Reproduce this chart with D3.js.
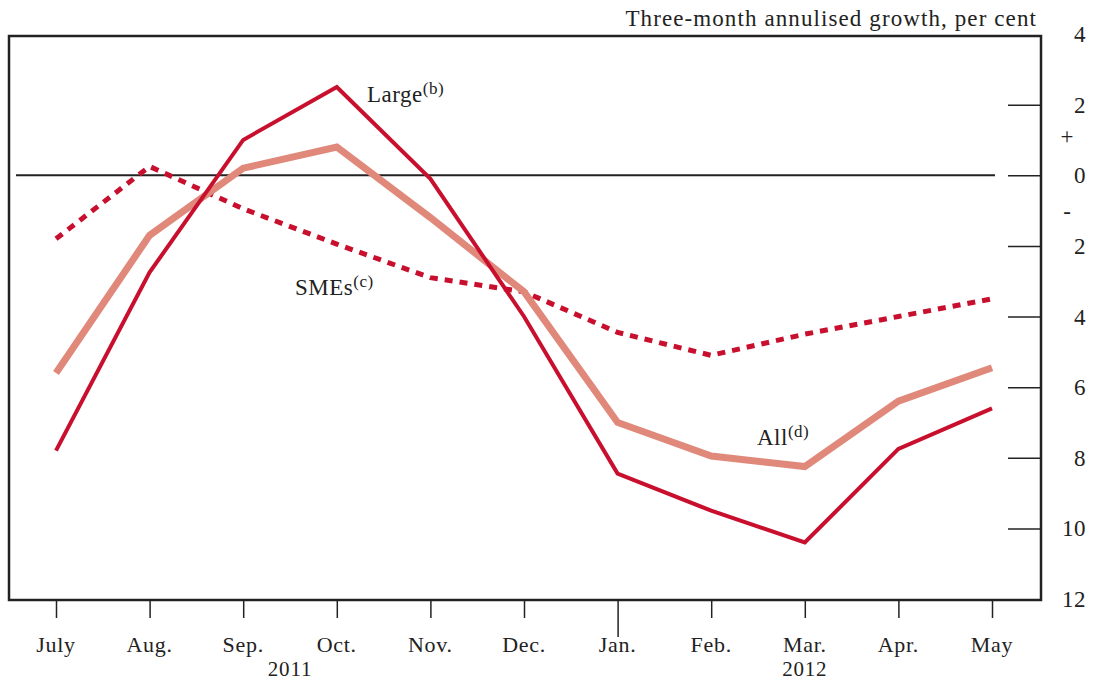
<!DOCTYPE html>
<html>
<head>
<meta charset="utf-8">
<script src="https://cdn.jsdelivr.net/npm/d3@7"></script>
<style>
  body { margin: 0; background: #fff; }
  text { font-family: "Liberation Serif", "DejaVu Serif", serif; fill: #222; }
</style>
</head>
<body>
<div id="chart"></div>
<script>
const months = ["July", "Aug.", "Sep.", "Oct.", "Nov.", "Dec.", "Jan.", "Feb.", "Mar.", "Apr.", "May"];
const years = [{ label: "2011", at: 2.5 }, { label: "2012", at: 8 }];
const large = [-7.8, -2.75, 1.0, 2.5, -0.1, -4.0, -8.45, -9.5, -10.4, -7.75, -6.6];
const allFirms = [-5.6, -1.7, 0.2, 0.8, -1.2, -3.3, -7.0, -7.95, -8.25, -6.4, -5.45];
const smes = [-1.8, 0.25, -0.95, -1.95, -2.9, -3.3, -4.45, -5.1, -4.5, -4.0, -3.5];
const yTicks = [4, 2, 0, -2, -4, -6, -8, -10, -12];

const W = 1093, H = 681;
const frame = { left: 9, right: 1041, top: 36, bottom: 600 };

const svg = d3.select("#chart").append("svg")
    .attr("width", W)
    .attr("height", H);

// scales
const x = d3.scalePoint()
    .domain(months)
    .range([56, 992]);

const y = d3.scaleLinear()
    .domain([-12, 4])
    .range([frame.bottom - 1, frame.top - 2]);

// frame
svg.append("rect")
    .attr("x", frame.left)
    .attr("y", frame.top)
    .attr("width", frame.right - frame.left)
    .attr("height", frame.bottom - frame.top)
    .attr("fill", "none")
    .attr("stroke", "#222")
    .attr("stroke-width", 2.5);

// right axis, ticks inside
const yAxis = d3.axisLeft(y)
    .tickValues(yTicks.filter(d => d > -12 && d < 4))
    .tickSize(33)
    .tickFormat("");
const gy = svg.append("g")
    .attr("transform", "translate(" + frame.right + ",0)")
    .call(yAxis);
gy.select(".domain").remove();
gy.selectAll("line").attr("stroke", "#222").attr("stroke-width", 1.5);

svg.append("g")
    .selectAll("text")
    .data(yTicks)
    .enter().append("text")
    .attr("x", 1086)
    .attr("y", d => y(d))
    .attr("dy", "0.35em")
    .attr("text-anchor", "end")
    .attr("font-size", 23)
    .attr("letter-spacing", 0.5)
    .text(d => Math.abs(d));

svg.append("text").attr("x", 1067).attr("y", y(1.1)).attr("dy", "0.35em")
    .attr("text-anchor", "middle").attr("font-size", 23).text("+");
svg.append("text").attr("x", 1067).attr("y", y(-1)).attr("dy", "0.35em")
    .attr("text-anchor", "middle").attr("font-size", 23).text("-");

// zero line
svg.append("line")
    .attr("x1", 16).attr("x2", 995)
    .attr("y1", y(0)).attr("y2", y(0))
    .attr("stroke", "#222")
    .attr("stroke-width", 2);

// bottom axis
const xAxis = d3.axisBottom(x)
    .tickSize(18)
    .tickFormat("");
const gx = svg.append("g")
    .attr("transform", "translate(0," + frame.bottom + ")")
    .call(xAxis);
gx.select(".domain").remove();
gx.selectAll("line").attr("stroke", "#222").attr("stroke-width", 1.5);
gx.selectAll(".tick").filter(d => d === "Jan.").select("line").attr("y2", 37);

svg.append("g")
    .selectAll("text")
    .data(months)
    .enter().append("text")
    .attr("x", d => x(d))
    .attr("y", 652)
    .attr("text-anchor", "middle")
    .attr("font-size", 22)
    .attr("letter-spacing", 0.7)
    .text(d => d);

const step = x.step();
svg.append("g")
    .selectAll("text")
    .data(years)
    .enter().append("text")
    .attr("x", d => x(months[0]) + d.at * step)
    .attr("y", 676)
    .attr("text-anchor", "middle")
    .attr("font-size", 21)
    .attr("letter-spacing", 0.8)
    .text(d => d.label);

// title
svg.append("text")
    .attr("x", 1037)
    .attr("y", 26)
    .attr("text-anchor", "end")
    .attr("font-size", 23)
    .attr("letter-spacing", 1.1)
    .text("Three-month annulised growth, per cent");

// lines
const line = d3.line()
    .x((d, i) => x(months[i]))
    .y(d => y(d));

svg.append("path")
    .datum(smes)
    .attr("d", line)
    .attr("fill", "none")
    .attr("stroke", "#c8102e")
    .attr("stroke-width", 5)
    .attr("stroke-dasharray", "8,7");

svg.append("path")
    .datum(allFirms)
    .attr("d", line)
    .attr("fill", "none")
    .attr("stroke", "#e0897b")
    .attr("stroke-width", 7);

svg.append("path")
    .datum(large)
    .attr("d", line)
    .attr("fill", "none")
    .attr("stroke", "#c8102e")
    .attr("stroke-width", 4);

// labels
function label(xp, yp, main, sup) {
    const t = svg.append("text")
        .attr("x", xp)
        .attr("y", yp)
        .attr("font-size", 23)
        .attr("letter-spacing", 0.5);
    t.append("tspan").text(main);
    t.append("tspan").attr("font-size", 17).attr("dy", -8).text(sup);
}
label(367, 102, "Large", "(b)");
label(295, 295, "SMEs", "(c)");
label(757, 445, "All", "(d)");
</script>
</body>
</html>
